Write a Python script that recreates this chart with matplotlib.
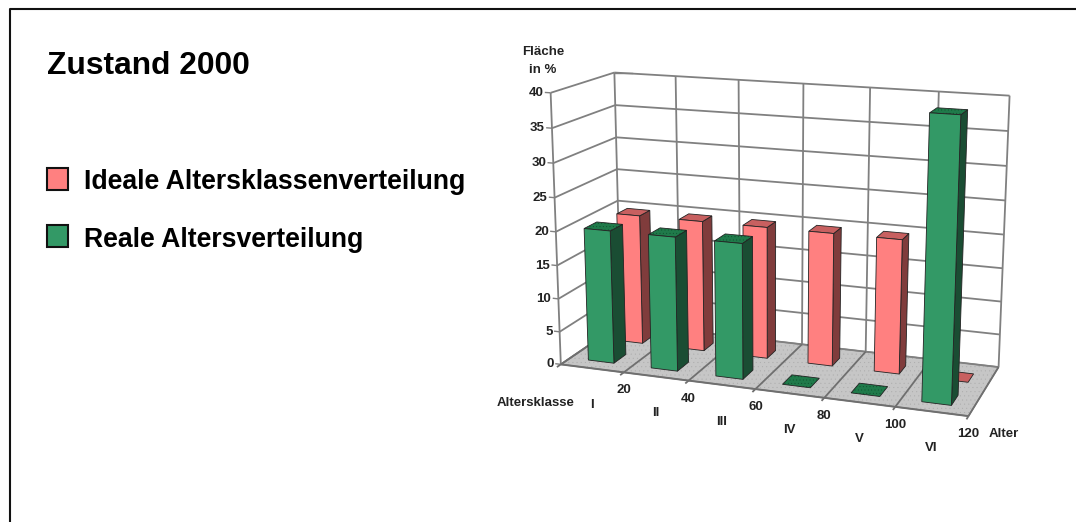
# encoding: utf-8
import numpy as np
import matplotlib
matplotlib.use('Agg')
import matplotlib.pyplot as plt
from matplotlib.patches import Polygon, Rectangle

plt.rcParams['font.family'] = ['Liberation Sans', 'DejaVu Sans']

# data
alter = [20, 40, 60, 80, 100, 120]
klassen = ['I', 'II', 'III', 'IV', 'V', 'VI']
ideal = [20, 20, 20, 20, 20, 0]
real = [20, 20, 20, 0, 0, 40]
yticks = [0, 5, 10, 15, 20, 25, 30, 35, 40]

# (x, depth, z) -> pixel reference points of the 3d box
box_3d = np.array([
    [0, 0, 0], [1, 0, 0], [2, 0, 0], [3, 0, 0], [4, 0, 0], [5, 0, 0], [6, 0, 0],
    [0, 0, 40], [0, 0, 30], [0, 0, 10],
    [0, 1, 40], [1, 1, 40], [2, 1, 40], [3, 1, 40], [4, 1, 40], [5, 1, 40], [6, 1, 40],
    [6, 1, 35], [6, 1, 20], [6, 1, 0], [0, 1, 20],
], dtype=float)
box_px = np.array([
    [562, 363], [623, 373], [688, 382], [756, 390], [825, 398], [894, 407], [969, 415],
    [551, 93], [553, 163], [558, 298],
    [614, 72], [676, 76], [738, 80], [803, 84], [871, 88], [939, 92], [1010, 95],
    [1008, 131], [1003, 234], [999, 367], [618, 201],
], dtype=float)


def fit_camera(pts3, pts2):
    rows, rhs = [], []
    for (x, y, z), (u, v) in zip(pts3, pts2):
        rows.append([x, y, z, 1, 0, 0, 0, 0, -u * x, -u * y, -u * z])
        rows.append([0, 0, 0, 0, x, y, z, 1, -v * x, -v * y, -v * z])
        rhs += [u, v]
    sol = np.linalg.lstsq(np.array(rows), np.array(rhs), rcond=None)[0]
    return np.append(sol, 1).reshape(3, 4)


cam = fit_camera(box_3d, box_px)


def proj(x, y, z):
    p = cam @ np.array([x, y, z, 1.0])
    return p[0] / p[2], p[1] / p[2]


fig = plt.figure(figsize=(10.76, 5.22), dpi=100)
ax = fig.add_axes([0, 0, 1, 1])
ax.set_xlim(0, 1076)
ax.set_ylim(522, 0)
ax.axis('off')

# frame
ax.plot([9.5, 9.5, 1076], [522, 8.5, 8.5], color='#111111', lw=1.5)

# title and legend
ax.text(47, 66, 'Zustand 2000', fontsize=22.9, fontweight='bold', va='center', color='black')
for yy, col, txt, ty in [(179, '#FF8080', 'Ideale Altersklassenverteilung', 182),
                         (236, '#339966', 'Reale Altersverteilung', 240)]:
    ax.add_patch(Rectangle((47, yy - 11.5), 21, 22, fc=col, ec='#111111', lw=1.5))
    ax.text(84, ty, txt, fontsize=19.2, fontweight='bold', va='center', color='black')

grid = '#808080'


def line3(a, b, color=grid, lw=1.3):
    pa, pb = proj(*a), proj(*b)
    ax.plot([pa[0], pb[0]], [pa[1], pb[1]], color=color, lw=lw, solid_capstyle='butt', zorder=2)


def quad(pts, fc, ec='#222222', lw=0.6, hatch=None, hatch_col='#0c4a2a', z=3):
    xy = [proj(*p) for p in pts]
    if hatch:
        ax.add_patch(Polygon(xy, closed=True, fc=fc, ec=hatch_col, lw=0, hatch=hatch, zorder=z))
        ax.add_patch(Polygon(xy, closed=True, fc='none', ec=ec, lw=lw, zorder=z))
    else:
        ax.add_patch(Polygon(xy, closed=True, fc=fc, ec=ec, lw=lw, zorder=z))


# floor
plt.rcParams['hatch.linewidth'] = 0.2
quad([(0, 0, 0), (6, 0, 0), (6, 1, 0), (0, 1, 0)], '#C6C6C6', ec=grid, lw=1.0,
     hatch='....', hatch_col='#ababab', z=1)

# walls
for v in yticks:
    line3((0, 0, v), (0, 1, v))
    line3((0, 1, v), (6, 1, v))
    line3((0, 0, v), (-0.09, 0, v), lw=1.0)
line3((0, 0, 0), (0, 0, 40))
for i in range(7):
    line3((i, 1, 0), (i, 1, 40))
    line3((i, 0, 0), (i, 1, 0), color='#6f6f6f')
    line3((i, 0, 0), (i, -0.06, 0), color='#6f6f6f')
line3((0, 0, 0), (6, 0, 0), color='#6f6f6f', lw=1.4)
px, py = proj(0, 1, 40)
ax.plot([px, px + 18], [py, py], color=grid, lw=1.0, zorder=2)


def bar3(i, u0, u1, d0, d1, value, face, side, top, hatch=None):
    u0, u1 = i + u0, i + u1
    z = 4 + (1 - d0) * 2
    if value == 0:
        quad([(u0, d0, 0), (u1, d0, 0), (u1, d1, 0), (u0, d1, 0)], top, hatch=hatch, z=z)
        return
    quad([(u1, d0, 0), (u1, d1, 0), (u1, d1, value), (u1, d0, value)], side, z=z)
    quad([(u0, d0, value), (u1, d0, value), (u1, d1, value), (u0, d1, value)], top, hatch=hatch, z=z)
    quad([(u0, d0, 0), (u1, d0, 0), (u1, d0, value), (u0, d0, value)], face, z=z)


# back row first, then the front row over it
for i in range(5, -1, -1):
    bar3(i, 0.35, 0.72, 0.62, 0.80, ideal[i], '#FF8080', '#803C3C', '#C86060')
for i in range(5, -1, -1):
    bar3(i, 0.29, 0.70, 0.15, 0.35, real[i], '#339966', '#1A4D33', '#1F7A4A', hatch='.....')

# axis labels
txt = dict(fontsize=9.5, fontweight='bold', color='#222222', zorder=8)
for v in yticks:
    tx, ty = proj(0, 0, v)
    ax.text(tx - 7, ty, str(v), ha='right', va='center', **txt)
for i, a in enumerate(alter):
    tx, ty = proj(i + 1, 0, 0)
    ax.text(tx, ty + 18, str(a), ha='center', va='center', **txt)
    cx, cy = proj(i + 0.5, 0, 0)
    ax.text(cx, cy + 37, klassen[i], ha='center', va='center', **txt)
ax.text(543, 52, 'Fläche', ha='center', va='center', **txt)
ax.text(543, 70, 'in %', ha='center', va='center', **txt)
ax.text(536, 403, 'Altersklasse', ha='center', va='center', **txt)
ax.text(1004, 434, 'Alter', ha='center', va='center', **txt)

fig.savefig('out.png', dpi=100)
